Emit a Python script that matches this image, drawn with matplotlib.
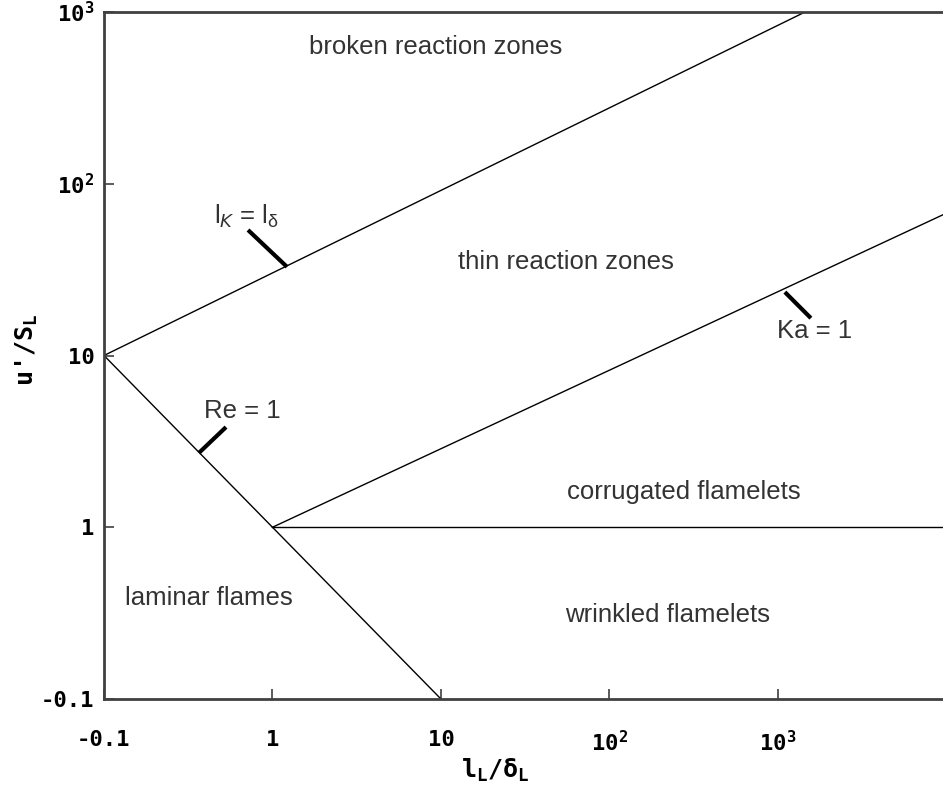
from matplotlib import pyplot as plt

plt.rcParams['mathtext.default'] = 'regular'

# regime boundaries
re_x = [0.1, 1, 10]
re_y = [10, 1, 0.1]
lk_x = [0.1, 1450]
lk_y = [10, 1000]
ka_x = [1, 9550]
ka_y = [1, 66]
flat_x = [1, 9550]
flat_y = [1, 1]

# short pointer strokes next to the line labels
ptr_lk_x = [0.716, 1.22]
ptr_lk_y = [53.8, 32.8]
ptr_re_x = [0.53, 0.366]
ptr_re_y = [3.83, 2.71]
ptr_ka_x = [1100, 1570]
ptr_ka_y = [23.4, 16.5]

labels = ['broken reaction zones', 'thin reaction zones', 'Ka = 1', 'Re = 1',
          r'l$_{\mathit{K}}$ = l$_{\delta}$', 'corrugated flamelets',
          'laminar flames', 'wrinkled flamelets']
label_x = [9.3, 55, 1660, 0.659, 0.697, 277, 0.42, 222]
label_y = [625, 35, 13.9, 4.75, 64.9, 1.60, 0.387, 0.308]

xticks = [0.1, 1, 10, 100, 1000]
xticklabels = ['-0.1', '1', '10', '10$^{2}$', '10$^{3}$']
yticks = [0.1, 1, 10, 100, 1000]
yticklabels = ['-0.1', '1', '10', '10$^{2}$', '10$^{3}$']

fig = plt.figure(figsize=(9.43, 7.85), dpi=100)
ax = fig.add_axes([104 / 943, 1 - 699 / 785, 1 - 104 / 943, (699 - 12) / 785])
ax.set_xscale('log')
ax.set_yscale('log')
ax.set_xlim(0.1, 9550)
ax.set_ylim(0.1, 1000)

for xs, ys in [(re_x, re_y), (lk_x, lk_y), (ka_x, ka_y), (flat_x, flat_y)]:
    ax.plot(xs, ys, color='black', lw=1.0)
for xs, ys in [(ptr_lk_x, ptr_lk_y), (ptr_re_x, ptr_re_y), (ptr_ka_x, ptr_ka_y)]:
    ax.plot(xs, ys, color='black', lw=3, solid_capstyle='butt')

for t, x, y in zip(labels, label_x, label_y):
    ax.text(x, y, t, ha='center', va='center', fontsize=18.5, color='#333333',
            family='Liberation Sans')

ax.spines['right'].set_visible(False)
for s in ['left', 'bottom', 'top']:
    ax.spines[s].set_color('#404040')
    ax.spines[s].set_linewidth(2)

ax.set_xticks(xticks)
ax.set_xticklabels(xticklabels)
ax.set_yticks(yticks)
ax.set_yticklabels(yticklabels)
ax.minorticks_off()
ax.tick_params(direction='in', length=7, width=1.2, color='#404040')
ax.tick_params(axis='x', pad=22)
ax.tick_params(axis='y', pad=7)
for lab in ax.get_xticklabels() + ax.get_yticklabels():
    lab.set_family('DejaVu Sans Mono')
    lab.set_weight('bold')
    lab.set_fontsize(16)

ax.set_xlabel(r"l$_L$/$\delta_L$", family='DejaVu Sans Mono', weight='bold',
              fontsize=18)
ax.set_ylabel(r"u'/S$_L$", family='DejaVu Sans Mono', weight='bold',
              fontsize=18)
ax.xaxis.set_label_coords((495 - 104) / 839, (699 - 770) / 687)
ax.yaxis.set_label_coords((27 - 104) / 839, (699 - 350) / 687)
ax.xaxis.label.set_va('center')
ax.yaxis.label.set_va('center')

plt.savefig('out.png', dpi=100)
